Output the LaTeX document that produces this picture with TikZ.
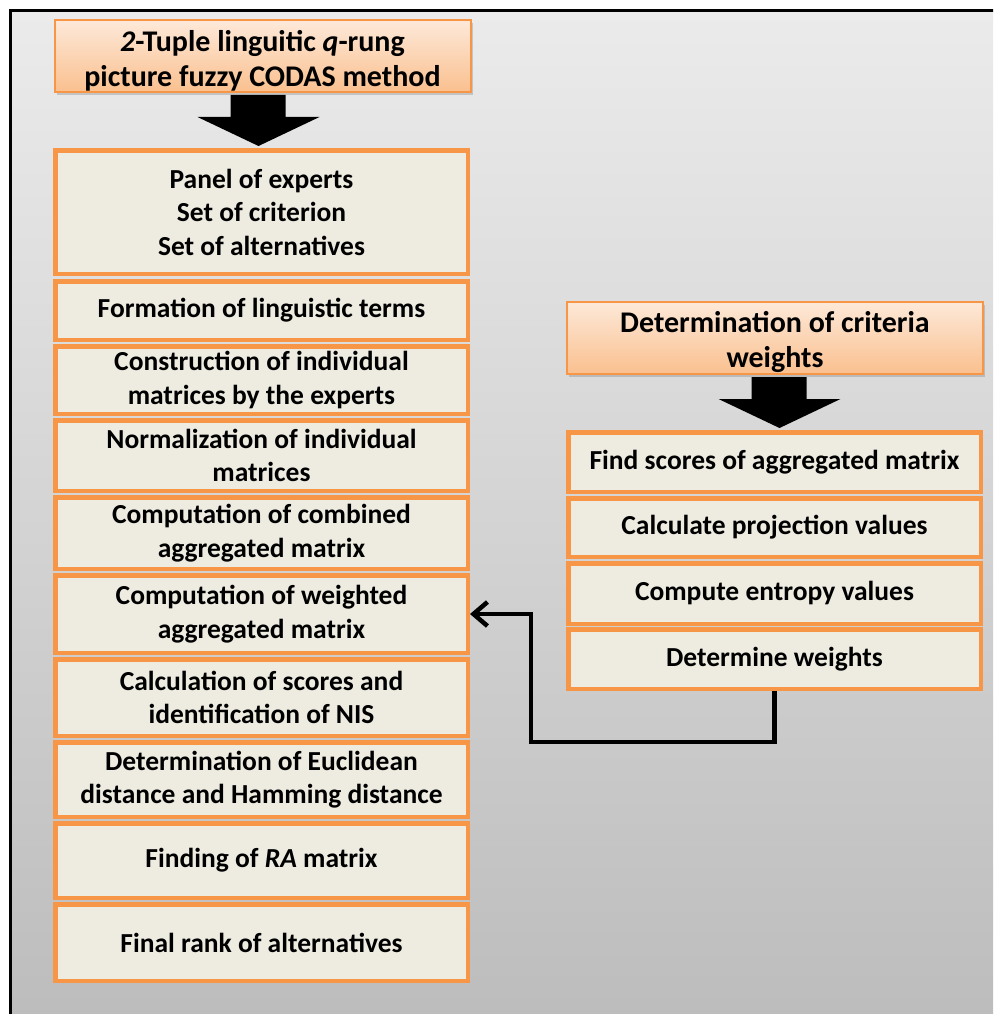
\documentclass[tikz,border=0pt]{standalone}
\usepackage{fontspec}
\setmainfont{Carlito}
\usepackage{tikz}
\usetikzlibrary{positioning,calc,arrows.meta,shadows}
\definecolor{codasOrange}{HTML}{F79646}
\definecolor{codasTan}{HTML}{EEECE1}
\definecolor{codasPeach}{HTML}{FDE9D9}
\definecolor{codasApricot}{HTML}{FAC08F}
\definecolor{frameTop}{HTML}{EBEBEB}
\definecolor{frameBottom}{HTML}{BCBCBC}

\tikzset{
  stepbox/.style={draw=codasOrange,line width=4.5pt,fill=codasTan,align=center,
    inner sep=0pt,minimum width=412.5pt,font=\bfseries\fontsize{27.5}{33.5}\selectfont},
  headbox/.style={draw=codasOrange,line width=2pt,top color=codasPeach,bottom color=codasApricot,
    align=center,inner sep=0pt,minimum width=416pt,minimum height=72pt,text height=65pt,
    font=\bfseries\fontsize{30}{34.5}\selectfont,
    drop shadow={opacity=0.35,shadow xshift=2pt,shadow yshift=-3pt}}
}

\begin{document}
\begin{tikzpicture}[x=1pt,y=-1pt]
  \useasboundingbox (0,0) rectangle (993,1014);
  \clip (0,0) rectangle (993,1014);
  \shade[top color=frameTop,bottom color=frameBottom] (10,11) rectangle (1010,1030);
  \draw[line width=3pt] (10,11) rectangle (1010,1030);

  % CODAS steps
  \node[headbox] (codas) at (262.5,56) {\textit{2}-Tuple linguitic \textit{q}-rung\\picture fuzzy CODAS method};
  \node[stepbox,minimum height=123.5pt] (inputs) at (261.5,212) {Panel of experts\\Set of criterion\\Set of alternatives};
  \node[stepbox,minimum height=58.5pt,below=3pt of inputs] (terms) {Formation of linguistic terms};
  \node[stepbox,minimum height=67.5pt,below=2pt of terms] (indiv) {Construction of individual\\matrices by the experts};
  \node[stepbox,minimum height=70.5pt,below=2pt of indiv] (normal) {Normalization of individual\\matrices};
  \node[stepbox,minimum height=71.5pt,below=2pt of normal] (combined) {Computation of combined\\aggregated matrix};
  \node[stepbox,minimum height=77.5pt,below=2pt of combined] (weighted) {Computation of weighted\\aggregated matrix};
  \node[stepbox,minimum height=76.5pt,below=2pt of weighted] (nis) {Calculation of scores and\\identification of NIS};
  \node[stepbox,minimum height=74.5pt,below=2pt of nis] (distance) {Determination of Euclidean\\distance and Hamming distance};
  \node[stepbox,minimum height=74.5pt,below=2pt of distance] (ramatrix) {Finding of \textit{RA} matrix};
  \node[stepbox,minimum height=76.5pt,below=2pt of ramatrix] (rank) {Final rank of alternatives};

  % weight steps
  \node[headbox] (criteria) at (775,337.5) {Determination of criteria\\weights};
  \node[stepbox,minimum height=59.5pt] (scores) at (774.5,462) {Find scores of aggregated matrix};
  \node[stepbox,minimum height=58.5pt,below=2pt of scores] (projection) {Calculate projection values};
  \node[stepbox,minimum height=60.5pt,below=2pt of projection] (entropy) {Compute entropy values};
  \node[stepbox,minimum height=59.5pt,below=1pt of entropy] (wts) {Determine weights};

  % block arrows
  \foreach \tip/\dx in {inputs/-3,scores/5}{
    \fill ([xshift=\dx pt,yshift=2pt]\tip.north) -- ++(-61,-29) -- ++(33,0) -- ++(0,-22)
      -- ++(55,0) -- ++(0,22) -- ++(34,0) -- cycle;
  }

  \coordinate (turn) at (531,742);
  \draw[line width=4.5pt,-{Straight Barb[length=14pt,width=24pt]}] (wts.south) |- (turn) |- (weighted.east);
\end{tikzpicture}
\end{document}
